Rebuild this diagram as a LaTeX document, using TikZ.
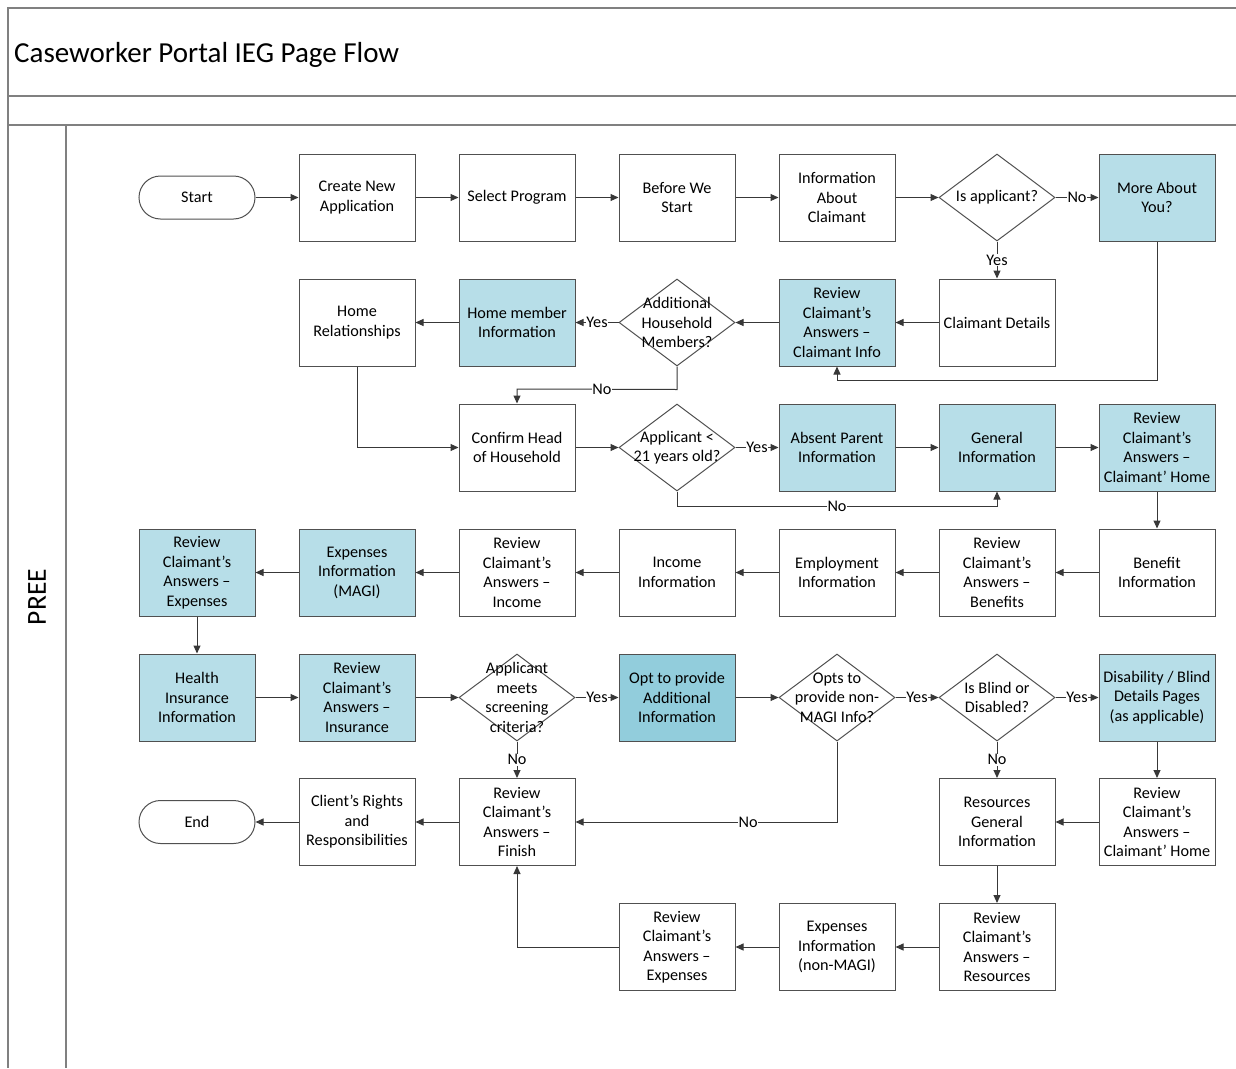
\documentclass[tikz,border=0pt]{standalone}
\usepackage{fontspec}
\setmainfont{Carlito}
\usetikzlibrary{shapes.geometric,arrows.meta,calc}
\definecolor{lblue}{HTML}{B7DEE8}
\definecolor{dblue}{HTML}{92CDDC}
\definecolor{bord}{HTML}{505050}
\definecolor{lanec}{HTML}{808080}
\definecolor{conn}{HTML}{383838}
\newcommand\bfnt{\fontsize{16.2}{19.5}\selectfont}
\begin{document}
\begin{tikzpicture}[x=1pt,y=-1pt,
  box/.style={draw=bord, line width=1pt, minimum width=116pt, minimum height=87pt, align=center, font=\bfnt, inner sep=1pt},
  bbox/.style={box, fill=lblue},
  dbox/.style={box, fill=dblue},
  dia/.style={diamond, draw=bord, line width=1pt, minimum width=116pt, minimum height=87pt, inner sep=0pt,
     label={[font=\bfnt, align=center]center:#1}},
  term/.style={draw=bord, line width=1pt, minimum width=116pt, minimum height=43pt, rounded corners=21.5pt, font=\bfnt},
  arr/.style={draw=conn, line width=1pt, -{Triangle[length=8pt,width=7pt]}},
  lbl/.style={fill=white, inner sep=0.5pt, font=\bfnt},
  frame/.style={draw=lanec, line width=1.3pt}]
\useasboundingbox (0,0) rectangle (1236,1068);
% frame
\draw[frame] (1236,8) -- (8,8) -- (8,1068);
\draw[frame] (8,96) -- (1236,96);
\draw[frame] (8,125) -- (1236,125);
\draw[frame] (66,125) -- (66,1068);
\node[anchor=west, font=\fontsize{29}{33}\selectfont, inner sep=0pt] (title) at (14,55) {Caseworker Portal IEG Page Flow};
\node[rotate=90, font=\fontsize{27.5}{32}\selectfont, inner sep=0pt] (lane) at (37,597) {PREE};

% row 1
\node[term] (start) at (197,197.5) {Start};
\node[box] (create) at (357,197.5) {Create New\\Application};
\node[box] (select) at (517,197.5) {Select Program};
\node[box] (before) at (677,197.5) {Before We\\Start};
\node[box] (info) at (837,197.5) {Information\\About\\Claimant};
\node[dia={Is applicant?}] (isapp) at (997,197.5) {};
\node[bbox] (more) at (1157,197.5) {More About\\You?};
% row 2
\node[box] (homerel) at (357,322.5) {Home\\Relationships};
\node[bbox] (homemem) at (517,322.5) {Home member\\Information};
\node[dia={Additional\\Household\\Members?}] (addl) at (677,322.5) {};
\node[bbox] (revci) at (837,322.5) {Review\\Claimant’s\\Answers –\\Claimant Info};
\node[box] (claimdet) at (997,322.5) {Claimant Details};
% row 3
\node[box] (confirm) at (517,447.5) {Confirm Head\\of Household};
\node[dia={Applicant <\\21 years old?}] (under21) at (677,447.5) {};
\node[bbox] (absent) at (837,447.5) {Absent Parent\\Information};
\node[bbox] (general) at (997,447.5) {General\\Information};
\node[bbox] (revhome) at (1157,447.5) {Review\\Claimant’s\\Answers –\\Claimant’ Home};
% row 4
\node[bbox] (revexp) at (197,572.5) {Review\\Claimant’s\\Answers –\\Expenses};
\node[bbox] (expmagi) at (357,572.5) {Expenses\\Information\\(MAGI)};
\node[box] (revinc) at (517,572.5) {Review\\Claimant’s\\Answers –\\Income};
\node[box] (income) at (677,572.5) {Income\\Information};
\node[box] (employ) at (837,572.5) {Employment\\Information};
\node[box] (revben) at (997,572.5) {Review\\Claimant’s\\Answers –\\Benefits};
\node[box] (benefit) at (1157,572.5) {Benefit\\Information};
% row 5
\node[bbox] (health) at (197,697.5) {Health\\Insurance\\Information};
\node[bbox] (revins) at (357,697.5) {Review\\Claimant’s\\Answers –\\Insurance};
\node[dia={Applicant\\meets\\screening\\criteria?}] (screen) at (517,697.5) {};
\node[dbox] (opt) at (677,697.5) {Opt to provide\\Additional\\Information};
\node[dia={Opts to\\provide non-\\MAGI Info?}] (nonmagi) at (837,697.5) {};
\node[dia={Is Blind or\\Disabled?}] (blind) at (997,697.5) {};
\node[bbox] (disab) at (1157,697.5) {Disability / Blind\\Details Pages\\(as applicable)};
% row 6
\node[term] (end) at (197,822) {End};
\node[box] (rights) at (357,822) {Client’s Rights\\and\\Responsibilities};
\node[box] (revfin) at (517,822) {Review\\Claimant’s\\Answers –\\Finish};
\node[box] (resgen) at (997,822) {Resources\\General\\Information};
\node[box] (revhome2) at (1157,822) {Review\\Claimant’s\\Answers –\\Claimant’ Home};
% row 7
\node[box] (revexp2) at (677,947) {Review\\Claimant’s\\Answers –\\Expenses};
\node[box] (expnon) at (837,947) {Expenses\\Information\\(non-MAGI)};
\node[box] (revres) at (997,947) {Review\\Claimant’s\\Answers –\\Resources};

% connectors row 1
\draw[arr] (start) -- (create);
\draw[arr] (create) -- (select);
\draw[arr] (select) -- (before);
\draw[arr] (before) -- (info);
\draw[arr] (info) -- (isapp);
\draw[arr] (isapp) -- node[lbl]{No} (more);
\draw[arr] (isapp) -- node[lbl]{Yes} (claimdet);
\draw[arr] (more.south) -- ($(more.south)+(0,139)$) -| (revci.south);
% row 2
\draw[arr] (claimdet) -- (revci);
\draw[arr] (revci) -- (addl);
\draw[arr] (addl) -- node[lbl]{Yes} (homemem);
\draw[arr] (homemem) -- (homerel);
\draw[arr] (addl.south) -- ($(addl.south)+(0,23)$) -- node[lbl, pos=0.47]{No} ($(confirm.north)+(0,-14.5)$) -- (confirm.north);
\draw[arr] (homerel.south) |- (confirm.west);
% row 3
\draw[arr] (confirm) -- (under21);
\draw[arr] (under21) -- node[lbl]{Yes} (absent);
\draw[arr] (under21.south) -- ($(under21.south)+(0,15)$) -- node[lbl]{No} ($(general.south)+(0,15)$) -- (general.south);
\draw[arr] (absent) -- (general);
\draw[arr] (general) -- (revhome);
\draw[arr] (revhome) -- (benefit);
% row 4
\draw[arr] (benefit) -- (revben);
\draw[arr] (revben) -- (employ);
\draw[arr] (employ) -- (income);
\draw[arr] (income) -- (revinc);
\draw[arr] (revinc) -- (expmagi);
\draw[arr] (expmagi) -- (revexp);
\draw[arr] (revexp) -- (health);
% row 5
\draw[arr] (health) -- (revins);
\draw[arr] (revins) -- (screen);
\draw[arr] (screen) -- node[lbl]{Yes} (opt);
\draw[arr] (opt) -- (nonmagi);
\draw[arr] (nonmagi) -- node[lbl]{Yes} (blind);
\draw[arr] (blind) -- node[lbl]{Yes} (disab);
\draw[arr] (screen) -- node[lbl]{No} (revfin);
\draw[arr] (blind) -- node[lbl]{No} (resgen);
\draw[arr] (nonmagi.south) |- node[lbl, pos=0.67]{No} (revfin.east);
\draw[arr] (disab) -- (revhome2);
% row 6
\draw[arr] (revhome2) -- (resgen);
\draw[arr] (resgen) -- (revres);
\draw[arr] (revfin) -- (rights);
\draw[arr] (rights) -- (end);
% row 7
\draw[arr] (revres) -- (expnon);
\draw[arr] (expnon) -- (revexp2);
\draw[arr] (revexp2.west) -| (revfin.south);
\end{tikzpicture}
\end{document}
